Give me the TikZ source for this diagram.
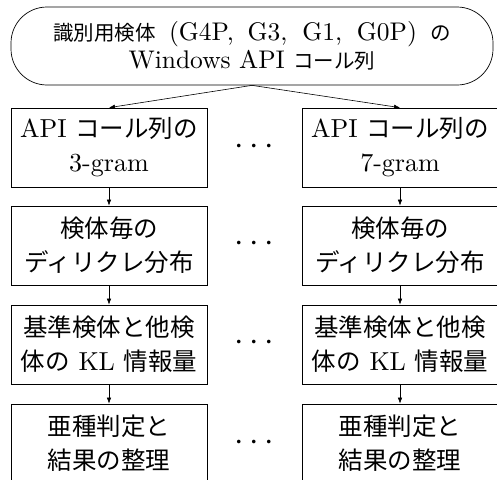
\documentclass[tikz,border=0pt]{standalone}
\usepackage{fontspec}
\setmainfont{lmroman10-regular}[Extension=.otf]
\newfontfamily\jpfont{Noto Sans CJK JP}
\newcommand\jp[1]{{\jpfont\fontsize{24.5}{34}\selectfont #1}}
\newcommand\jpt[1]{{\jpfont\fontsize{20.5}{28}\selectfont #1}}
\usetikzlibrary{arrows.meta}
\begin{document}
\begin{tikzpicture}[x=1pt,y=-1pt,
  box/.style={draw, line width=0.7pt, minimum width=196pt, minimum height=79pt,
    inner sep=0pt, align=center, font=\fontsize{26}{34}\selectfont},
  topbox/.style={draw, line width=0.7pt, rounded corners=36pt, minimum width=482pt,
    minimum height=78pt, inner sep=0pt, align=center, font=\fontsize{25.5}{28}\selectfont},
  arr/.style={-{Latex[length=6pt,width=4.5pt]}, line width=0.6pt},
  dots/.style={scale=3.4, inner sep=0pt}]
\useasboundingbox (0,0) rectangle (497,479);
\node[topbox] (top) at (252,46) {%
\makebox[398pt][s]{\jpt{識別用検体} (G4P, G3, G1, G0P) \jpt{の}}\\
Windows API \jpt{コール列}};
\node[box] (l1) at (109,147.5) {API \jp{コール列の}\\3-gram};
\node[box] (l2) at (109,245.5) {\jp{検体毎の}\\\jp{ディリクレ分布}};
\node[box] (l3) at (109,344.5) {\jp{基準検体と他検}\\\jp{体の} KL \jp{情報量}};
\node[box] (l4) at (109,443.5) {\jp{亜種判定と}\\\jp{結果の整理}};
\node[box] (r1) at (400,147.5) {API \jp{コール列の}\\7-gram};
\node[box] (r2) at (400,245.5) {\jp{検体毎の}\\\jp{ディリクレ分布}};
\node[box] (r3) at (400,344.5) {\jp{基準検体と他検}\\\jp{体の} KL \jp{情報量}};
\node[box] (r4) at (400,443.5) {\jp{亜種判定と}\\\jp{結果の整理}};
\node[dots] (d1) at (254,147) {$\cdots$};
\node[dots] (d2) at (254,244) {$\cdots$};
\node[dots] (d3) at (254,343) {$\cdots$};
\node[dots] (d4) at (254,443) {$\cdots$};
\draw[arr] (top.south) -- (l1.north);
\draw[arr] (top.south) -- (r1.north);
\draw[arr] (l1) -- (l2);
\draw[arr] (l2) -- (l3);
\draw[arr] (l3) -- (l4);
\draw[arr] (r1) -- (r2);
\draw[arr] (r2) -- (r3);
\draw[arr] (r3) -- (r4);
\end{tikzpicture}
\end{document}
